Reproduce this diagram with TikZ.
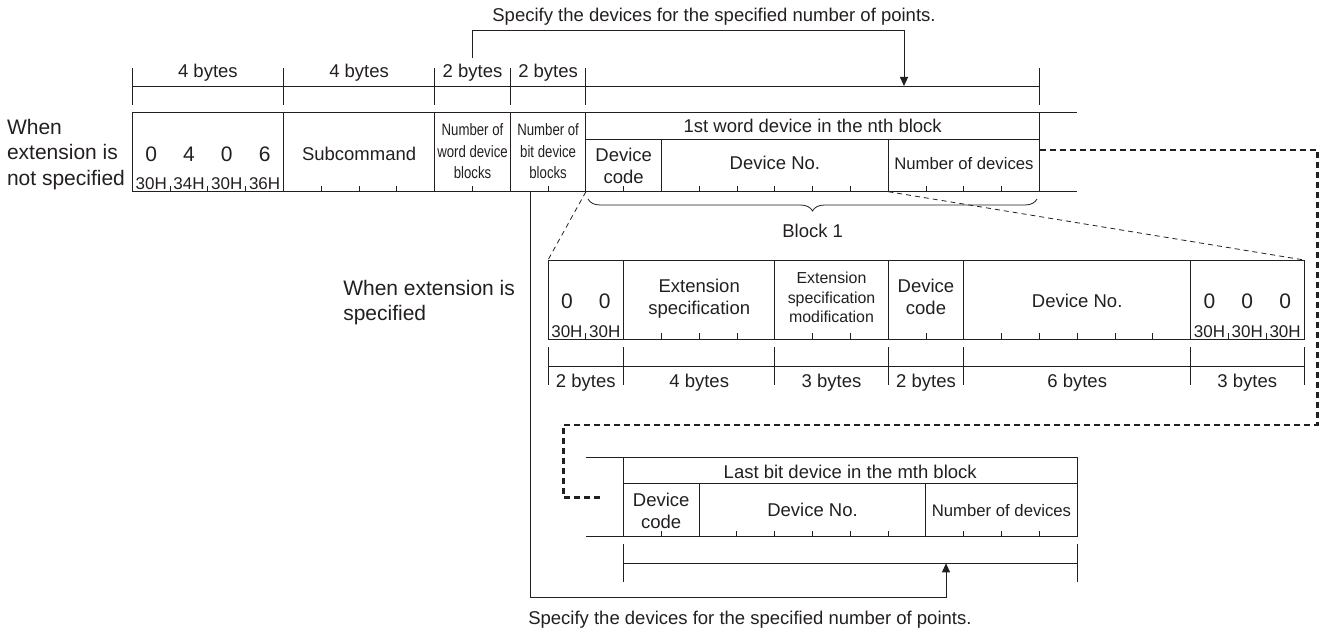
\documentclass[tikz,border=0pt]{standalone}
\usepackage{fontspec}
\setmainfont{Liberation Sans}
\newfontfamily\narrowfont[FakeStretch=0.8]{Liberation Sans}
\usetikzlibrary{arrows.meta,decorations.pathreplacing}
\definecolor{ink}{RGB}{35,31,32}
\begin{document}
\begin{tikzpicture}[x=1pt,y=-1pt,line width=0.9pt,color=ink,
  txt/.style={inner sep=0pt,outer sep=0pt,font=\fontsize{18.5}{21.7}\selectfont,align=center},
  lab/.style={txt,font=\fontsize{21}{25.6}\selectfont,align=left},
  dig/.style={txt,font=\fontsize{21}{21}\selectfont,anchor=base},
  hex/.style={txt,font=\fontsize{17}{17}\selectfont,anchor=base},
  small/.style={txt,font=\fontsize{16.7}{20}\selectfont},
  tiny/.style={txt,font=\fontsize{15.9}{19.3}\selectfont},
  narrow/.style={txt,font=\narrowfont\fontsize{16.5}{21.7}\selectfont},
  thindash/.style={line width=0.8pt,dash pattern=on 5pt off 4pt},
  thickdash/.style={line width=2.4pt,dash pattern=on 6pt off 4pt},
  arr/.style={-{Triangle[length=9pt,width=8pt]}},
]
\useasboundingbox (0,0) rectangle (1321,631);

% ---------- top bytes row ----------
\foreach \x in {132.3,283.5,434.7,510.3,585.9,1039.5} \draw (\x,68) -- (\x,105);
\draw (132.3,86) -- (1039.5,86);
\node[txt,anchor=base] (tb1) at (207.9,78) {4 bytes};
\node[txt,anchor=base] (tb2) at (359.1,78) {4 bytes};
\node[txt,anchor=base] (tb3) at (472.5,78) {2 bytes};
\node[txt,anchor=base] (tb4) at (548.1,78) {2 bytes};

\node[txt,anchor=base] (spec1) at (714,22) {Specify the devices for the specified number of points.};
\coordinate (brA) at (472.5,58);
\coordinate (brB) at (472.5,30);
\coordinate (brC) at (904,30);
\coordinate (brD) at (904,86);
\draw[arr] (brA) -- (brB) -- (brC) -- (brD);

% ---------- top frame ----------
\draw (132.3,112.7) -- (1077,112.7);
\draw (132.3,191.7) -- (1077,191.7);
\foreach \x in {132.3,283.5,434.7,510.3,585.9,1039.5} \draw (\x,112.7) -- (\x,191.7);
\draw (585.9,139) -- (1039.5,139);
\foreach \x in {661.5,888.3} \draw (\x,139) -- (\x,191.7);
\foreach \x in {170.1,207.9,245.7,321.3,359.1,396.9,472.5,548.1,623.7,699.3,737.1,774.9,812.7,850.5,926.1,963.9,1001.7}
  \draw (\x,191.7) -- ++(0,-6);

\node[lab,anchor=north west] (noext) at (7,119) {When\\extension is\\not specified};
\node[dig] (d1) at (151.2,161.5) {0};
\node[dig] (d2) at (189,161.5) {4};
\node[dig] (d3) at (226.8,161.5) {0};
\node[dig] (d4) at (264.6,161.5) {6};
\node[hex] (h1) at (151.2,189.5) {30H};
\node[hex] (h2) at (189,189.5) {34H};
\node[hex] (h3) at (226.8,189.5) {30H};
\node[hex] (h4) at (264.6,189.5) {36H};
\node[txt,anchor=base] (subcmd) at (359.1,160.5) {Subcommand};
\node[narrow,anchor=north] (wdb) at (472.5,123.5) {Number of\\word device\\blocks};
\node[narrow,anchor=north] (bdb) at (548.1,123.5) {Number of\\bit device\\blocks};
\node[txt,anchor=base] (first) at (812.7,133) {1st word device in the nth block};
\node[txt,anchor=north] (dc1) at (623.7,148.4) {Device\\code};
\node[txt,anchor=base] (dn1) at (774.9,170) {Device No.};
\node[small,anchor=base] (nd1) at (963.9,170) {Number of devices};

\draw[line width=0.8pt,decorate,decoration={brace,mirror,amplitude=12pt}] (588,199) -- (1037,199);
\node[txt,anchor=base] (blk1) at (812.7,237) {Block 1};

% ---------- zoom connectors ----------
\coordinate (z1a) at (585.9,191.7);
\coordinate (z1b) at (548,260);
\coordinate (z2a) at (888.3,191.7);
\coordinate (z2b) at (1304,260);
\draw[thindash] (z1a) -- (z1b);
\draw[thindash] (z2a) -- (z2b);

% ---------- extension frame ----------
\node[lab,anchor=north west] (ext) at (343.3,280) {When extension is\\specified};
\draw (548,260) rectangle (1304,339.3);
\foreach \x in {623.6,774.8,888.2,963.8,1190.6} \draw (\x,260) -- (\x,339.3);
\foreach \x in {585.8,661.4,699.2,737,812.6,850.4,926,1001.6,1039.4,1077.2,1115,1152.8,1228.4,1266.2}
  \draw (\x,339.3) -- ++(0,-6);
\node[dig] (e1) at (566.9,308.5) {0};
\node[dig] (e2) at (604.7,308.5) {0};
\node[hex] (eh1) at (566.9,337) {30H};
\node[hex] (eh2) at (604.7,337) {30H};
\node[txt,anchor=north] (es) at (699.2,279.3) {Extension\\specification};
\node[tiny,anchor=north] (esm) at (831.5,272.3) {Extension\\specification\\modification};
\node[txt,anchor=north] (dc2) at (926,279) {Device\\code};
\node[txt,anchor=base] (dn2) at (1077.2,307.5) {Device No.};
\node[dig] (e3) at (1209.5,308.5) {0};
\node[dig] (e4) at (1247.3,308.5) {0};
\node[dig] (e5) at (1285.1,308.5) {0};
\node[hex] (eh3) at (1209.5,337) {30H};
\node[hex] (eh4) at (1247.3,337) {30H};
\node[hex] (eh5) at (1285.1,337) {30H};

\foreach \x in {548,623.6,774.8,888.2,963.8,1190.6,1304} \draw (\x,347.3) -- (\x,385);
\draw (548,366) -- (1304,366);
\node[txt,anchor=base] (eb1) at (585.8,387) {2 bytes};
\node[txt,anchor=base] (eb2) at (699.2,387) {4 bytes};
\node[txt,anchor=base] (eb3) at (831.5,387) {3 bytes};
\node[txt,anchor=base] (eb4) at (926,387) {2 bytes};
\node[txt,anchor=base] (eb5) at (1077.2,387) {6 bytes};
\node[txt,anchor=base] (eb6) at (1247.3,387) {3 bytes};

% ---------- thick dashed continuation ----------
\coordinate (t0) at (1039.5,150);
\coordinate (t1) at (1317.3,150);
\coordinate (t2) at (1317.3,424.7);
\coordinate (t3) at (563.3,424.7);
\coordinate (t4) at (563.3,497.3);
\coordinate (t5) at (600,497.3);
\draw[thickdash] (t0) -- (t1) -- (t2) -- (t3) -- (t4) -- (t5);

% ---------- last block ----------
\draw (586,457.3) -- (1077,457.3);
\draw (586,536.7) -- (1077,536.7);
\draw (623.3,483.3) -- (1077,483.3);
\draw (623.3,457.3) -- (623.3,536.7);
\draw (1077,457.3) -- (1077,536.7);
\draw (699.1,483.3) -- (699.1,536.7);
\draw (925.9,483.3) -- (925.9,536.7);
\foreach \x in {661.2,736.9,774.7,812.5,850.3,888.1,963.7,1001.5,1039.3}
  \draw (\x,536.7) -- ++(0,-6);
\node[txt,anchor=base] (last) at (850.2,478.3) {Last bit device in the mth block};
\node[txt,anchor=north] (dc3) at (661.2,493.3) {Device\\code};
\node[txt,anchor=base] (dn3) at (812.5,516) {Device No.};
\node[small,anchor=base] (nd3) at (1001.5,516) {Number of devices};
\draw (623.3,544.3) -- (623.3,581.7);
\draw (1077,544.3) -- (1077,581.7);
\draw (623.3,563.3) -- (1077,563.3);

\coordinate (v0) at (530.5,191.7);
\coordinate (v1) at (530.5,597.3);
\coordinate (v2) at (946,597.3);
\coordinate (v3) at (946,563.3);
\draw[arr] (v0) -- (v1) -- (v2) -- (v3);
\node[txt,anchor=base west] (spec2) at (528.3,624) {Specify the devices for the specified number of points.};
\end{tikzpicture}
\end{document}
